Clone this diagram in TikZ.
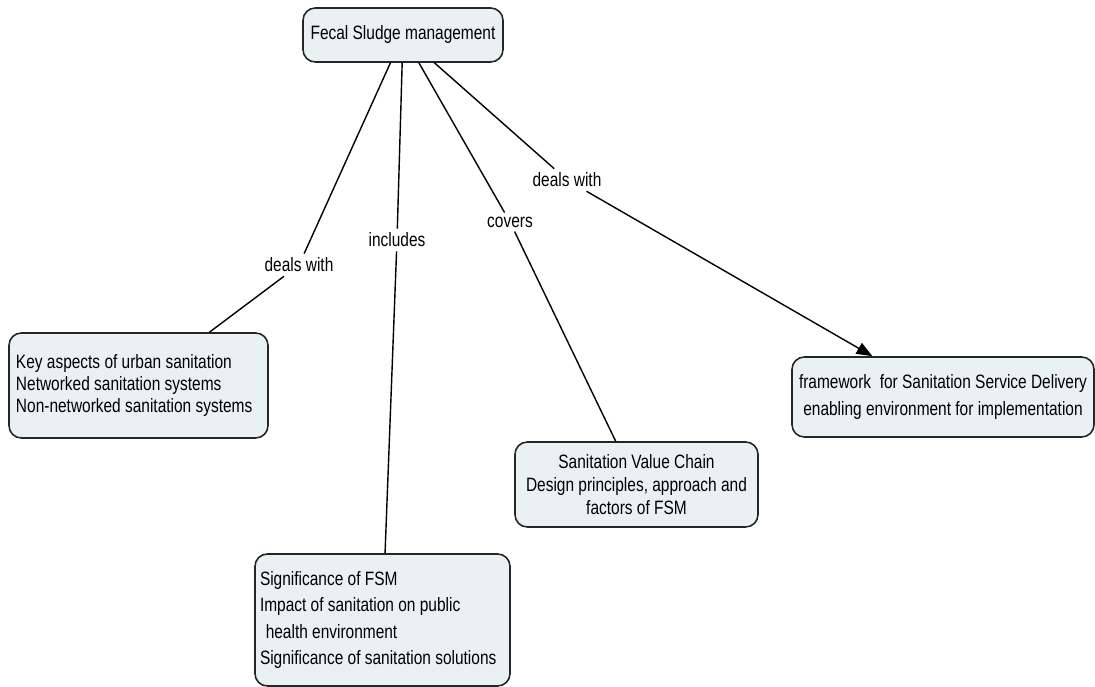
\documentclass[tikz,border=0pt]{standalone}
\usepackage{fontspec}
\setmainfont{Liberation Sans}[FakeStretch=0.8]
\usetikzlibrary{arrows.meta}
\definecolor{boxfill}{RGB}{233,241,245}

\begin{document}
\begin{tikzpicture}[
  x=0.2mm, y=-0.2mm,
  >={Triangle[length=9pt,width=7pt]},
  line width=0.8pt,
  every node/.style={font=\fontsize{11}{15}\selectfont},
  concept/.style={draw=black!85, rectangle, rounded corners=7pt, fill=boxfill, line width=0.9pt, inner xsep=0.14cm, inner ysep=2pt},
  lab/.style={inner sep=2pt}
]
  \useasboundingbox (0,0) rectangle (1095,687);

  \node[concept, minimum width=4cm, minimum height=1.08cm] (fsm) at (403,35) {Fecal Sludge management};

  \node[concept, text width=4.9cm, align=flush left, minimum height=2.1cm,
        font=\fontsize{11}{12.5}\selectfont] (aspects) at (138.5,385.5)
    {Key aspects of urban sanitation\\Networked sanitation systems\\Non-networked sanitation systems};
  \node[concept, text width=4.9cm, inner xsep=0.1cm, align=flush left, minimum height=2.64cm] (signif) at (382.5,620)
    {Significance of FSM\\Impact of sanitation on public\\\hspace{0.3em}health environment\\Significance of sanitation solutions};
  \node[concept, align=center, minimum width=4.86cm, minimum height=1.7cm,
        font=\fontsize{11}{13}\selectfont] (chain) at (636.5,484.5)
    {Sanitation Value Chain\\Design principles, approach and\\factors of FSM};
  \node[concept, align=center, minimum width=6.04cm, minimum height=1.6cm] (frame) at (943,397)
    {framework~ for Sanitation Service Delivery\\enabling environment for implementation};

  % link labels
  \node[lab] (l1) at (299,265) {deals with};
  \node[lab] (l2) at (397,240) {includes};
  \node[lab] (l3) at (510,222) {covers};
  \node[lab] (l4) at (567,180) {deals with};

  \draw (fsm) -- (l1);
  \draw (l1) -- (aspects);
  \draw (fsm) -- (l2);
  \draw (l2) -- (signif);
  \draw (fsm) -- (l3);
  \draw (l3) -- (chain);
  \draw (fsm) -- (l4);
  \draw[->] (l4) -- (frame);
\end{tikzpicture}
\end{document}
